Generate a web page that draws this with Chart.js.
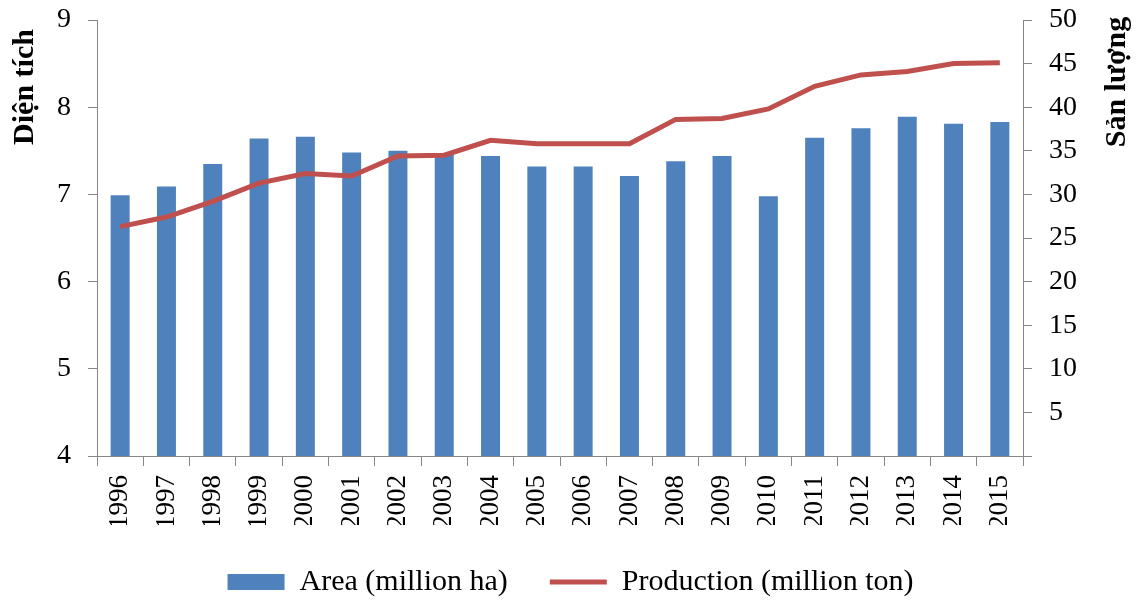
<!DOCTYPE html>
<html>
<head>
<meta charset="utf-8">
<script src="https://cdn.jsdelivr.net/npm/chart.js@4.4.1/dist/chart.umd.min.js"></script>
<style>
  html, body { margin: 0; padding: 0; background: #fff; }
  #wrap { width: 1141px; height: 601px; }
</style>
</head>
<body>
<div id="wrap"><canvas id="riceChart" width="1141" height="601"></canvas></div>
<script>
const years = ['1996', '1997', '1998', '1999', '2000', '2001', '2002', '2003', '2004', '2005',
  '2006', '2007', '2008', '2009', '2010', '2011', '2012', '2013', '2014', '2015'];
const area = [6.99, 7.09, 7.35, 7.64, 7.66, 7.48, 7.50, 7.47, 7.44, 7.32,
  7.32, 7.21, 7.38, 7.44, 6.98, 7.65, 7.76, 7.89, 7.81, 7.83];
const production = [26.3, 27.4, 29.2, 31.3, 32.4, 32.1, 34.4, 34.5, 36.2, 35.8,
  35.8, 35.8, 38.6, 38.7, 39.8, 42.4, 43.7, 44.1, 45.0, 45.1];
const areaTicks = { min: 4, max: 9, step: 1 };
const prodTicks = { min: 0, max: 50, step: 5 };

const serif = '"Liberation Serif", "Times New Roman", serif';
const axisGrey = '#868686';

// axis titles drawn by hand so both read bottom-to-top like the original
const axisTitles = {
  id: 'axisTitles',
  afterDraw(chart) {
    const { ctx, chartArea } = chart;
    ctx.save();
    ctx.font = 'bold 30px ' + serif;
    ctx.fillStyle = '#000';
    ctx.textAlign = 'center';
    ctx.textBaseline = 'middle';
    const drawTitle = (text, x, y) => {
      ctx.save();
      ctx.translate(x, y);
      ctx.rotate(-Math.PI / 2);
      ctx.fillText(text, 0, 0);
      ctx.restore();
    };
    drawTitle('Diện tích', chartArea.left - 72, chartArea.top + 67);
    drawTitle('Sản lượng', chartArea.right + 94, chartArea.top + 62);
    ctx.restore();
  }
};

// fixed axis widths, no extra label padding on top
function fixWidth(w) {
  return (scale) => {
    scale.width = w;
    scale.paddingTop = 0;
    scale.paddingBottom = 0;
  };
}

const ctx = document.getElementById('riceChart').getContext('2d');
const riceChart = new Chart(ctx, {
  type: 'bar',
  data: {
    labels: years,
    datasets: [{
      type: 'bar',
      label: 'Area (million ha)',
      data: area,
      yAxisID: 'y',
      backgroundColor: '#4F81BD',
      borderWidth: 0,
      barPercentage: 0.41,
      categoryPercentage: 1,
      order: 2
    },
    {
      type: 'line',
      label: 'Production (million ton)',
      data: production,
      yAxisID: 'y1',
      borderColor: '#C0504D',
      backgroundColor: '#C0504D',
      borderWidth: 5,
      pointRadius: 0,
      tension: 0,
      order: 1
    }]
  },
  options: {
    responsive: false,
    animation: false,
    layout: { padding: { top: 20, left: 0, right: 0, bottom: -6 } },
    scales: {
      x: {
        grid: { drawOnChartArea: false, drawTicks: true, tickLength: 10, color: axisGrey, offset: true },
        border: { color: axisGrey, width: 1 },
        ticks: {
          minRotation: 90, maxRotation: 90, autoSkip: false, padding: 9,
          color: '#000', font: { family: serif, size: 27 }
        },
        afterFit(scale) { scale.height = 69; }
      },
      y: {
        position: 'left',
        min: areaTicks.min, max: areaTicks.max,
        grid: { drawOnChartArea: false, drawTicks: true, tickLength: 9, color: axisGrey },
        border: { color: axisGrey, width: 1 },
        ticks: { stepSize: areaTicks.step, padding: 17, color: '#000', font: { family: serif, size: 28 } },
        afterFit: fixWidth(97)
      },
      y1: {
        position: 'right',
        min: prodTicks.min, max: prodTicks.max,
        grid: { drawOnChartArea: false, drawTicks: true, tickLength: 9, color: axisGrey },
        border: { color: axisGrey, width: 1 },
        ticks: {
          stepSize: prodTicks.step, padding: 17, color: '#000', font: { family: serif, size: 28 },
          callback: (v) => v === 0 ? '' : v
        },
        afterFit: fixWidth(118)
      }
    },
    plugins: {
      tooltip: { enabled: false },
      legend: {
        display: true,
        position: 'bottom',
        labels: {
          usePointStyle: true,
          pointStyleWidth: 57,
          boxHeight: 16,
          padding: 42,
          color: '#000',
          font: { family: serif, size: 30 },
          generateLabels(chart) {
            const items = Chart.defaults.plugins.legend.labels.generateLabels(chart);
            items.sort((a, b) => a.datasetIndex - b.datasetIndex);
            items.forEach((it) => {
              it.pointStyle = it.datasetIndex === 0 ? 'rect' : 'line';
            });
            return items;
          }
        }
      }
    }
  },
  plugins: [axisTitles]
});
</script>
</body>
</html>
